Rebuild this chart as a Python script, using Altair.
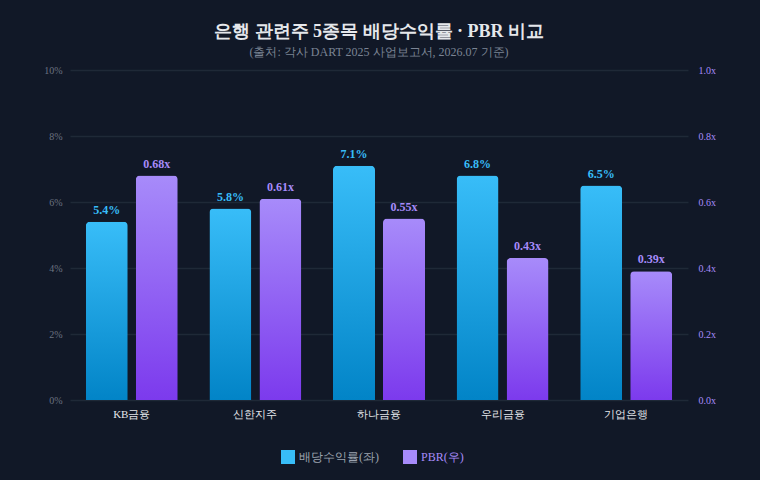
import altair as alt
import pandas as pd

banks = ["KB금융", "신한지주", "하나금융", "우리금융", "기업은행"]
dividend_yield = [5.4, 5.8, 7.1, 6.8, 6.5]
pbr = [0.68, 0.61, 0.55, 0.43, 0.39]
series_names = ["배당수익률(좌)", "PBR(우)"]
series_colors = ["#38bdf8", "#a78bfa"]

df = pd.DataFrame({"bank": banks, "div": dividend_yield, "pbr": pbr})
df["div_label"] = [f"{v:.1f}%" for v in dividend_yield]
df["pbr_label"] = [f"{v:.2f}x" for v in pbr]
legend_df = pd.DataFrame({"series": series_names})

FONT = "Liberation Serif"
BG = "#111827"

x_enc = alt.X(
    "bank:N", sort=banks, title=None,
    scale=alt.Scale(paddingInner=0, paddingOuter=0),
    axis=alt.Axis(labelAngle=0, labelColor="#e5e7eb", labelFontSize=11,
                  labelPadding=8, ticks=False, domain=False, grid=False),
)

blue_grad = alt.Gradient(gradient="linear",
                         stops=[alt.GradientStop(color="#38bdf8", offset=0),
                                alt.GradientStop(color="#0284c7", offset=1)],
                         x1=0, x2=0, y1=0, y2=1)
purple_grad = alt.Gradient(gradient="linear",
                           stops=[alt.GradientStop(color="#a78bfa", offset=0),
                                  alt.GradientStop(color="#7c3aed", offset=1)],
                           x1=0, x2=0, y1=0, y2=1)

y_div = alt.Y("div:Q", title=None,
              scale=alt.Scale(domain=[0, 10], nice=False),
              axis=alt.Axis(values=[0, 2, 4, 6, 8, 10], labelExpr="datum.value + '%'",
                            labelColor="#6b7280", labelFontSize=10, labelPadding=8,
                            grid=True, gridColor="#1f2937", gridWidth=1.5,
                            ticks=False, domain=False, orient="left"))
y_pbr = alt.Y("pbr:Q", title=None,
              scale=alt.Scale(domain=[0, 1], nice=False),
              axis=alt.Axis(values=[0, 0.2, 0.4, 0.6, 0.8, 1.0],
                            labelExpr="format(datum.value, '.1f') + 'x'",
                            labelColor="#a78bfa", labelFontSize=10, labelPadding=10,
                            grid=False, ticks=False, domain=False, orient="right"))

base = alt.Chart(df)

blue_bar = base.mark_bar(width=42, xOffset=-25, fill=blue_grad,
                         cornerRadiusTopLeft=4, cornerRadiusTopRight=4).encode(x=x_enc, y=y_div)
blue_text = base.mark_text(xOffset=-25, dy=-5, baseline="bottom", fontWeight="bold",
                           fontSize=12, color="#38bdf8", font=FONT).encode(
    x=x_enc, y=y_div, text="div_label:N")
purple_bar = base.mark_bar(width=42, xOffset=25, fill=purple_grad,
                           cornerRadiusTopLeft=4, cornerRadiusTopRight=4).encode(x=x_enc, y=y_pbr)
purple_text = base.mark_text(xOffset=25, dy=-5, baseline="bottom", fontWeight="bold",
                             fontSize=12, color="#a78bfa", font=FONT).encode(
    x=x_enc, y=y_pbr, text="pbr_label:N")

legend_layer = alt.Chart(legend_df).mark_square(opacity=0, size=0).encode(
    x=alt.value(0), y=alt.value(0),
    color=alt.Color("series:N", sort=series_names,
                    scale=alt.Scale(domain=series_names, range=series_colors),
                    legend=alt.Legend(title=None, orient="none", direction="horizontal",
                                      legendX=211, legendY=380,
                                      symbolType="square", symbolSize=196, symbolOpacity=1,
                                      symbolStrokeWidth=0, labelFontSize=12,
                                      labelColor={"expr": "datum.value == 'PBR(우)' ? '#a78bfa' : '#9ca3af'"},
                                      columnPadding=24, labelFont=FONT)),
)

chart = alt.layer(
    alt.layer(blue_bar, blue_text),
    alt.layer(purple_bar, purple_text),
    legend_layer,
).resolve_scale(y="independent").properties(
    width=618, height=330,
    background=BG,
    padding={"left": 70, "top": 70, "right": 72, "bottom": 80},
    autosize=alt.AutoSizeParams(type="none"),
    title=alt.TitleParams(
        text="은행 관련주 5종목 배당수익률 · PBR 비교",
        subtitle="(출처: 각사 DART 2025 사업보고서, 2026.07 기준)",
        color="#e5e7eb", fontSize=18, fontWeight="bold", font=FONT,
        subtitleColor="#7b8494", subtitleFontSize=12, subtitleFont=FONT,
        subtitlePadding=6, anchor="middle", offset=7,
    ),
).configure_view(stroke=None).configure_axis(labelFont=FONT).configure_legend(labelFont=FONT)

chart.save("out.html", embed_options={"renderer": "svg", "actions": False})
